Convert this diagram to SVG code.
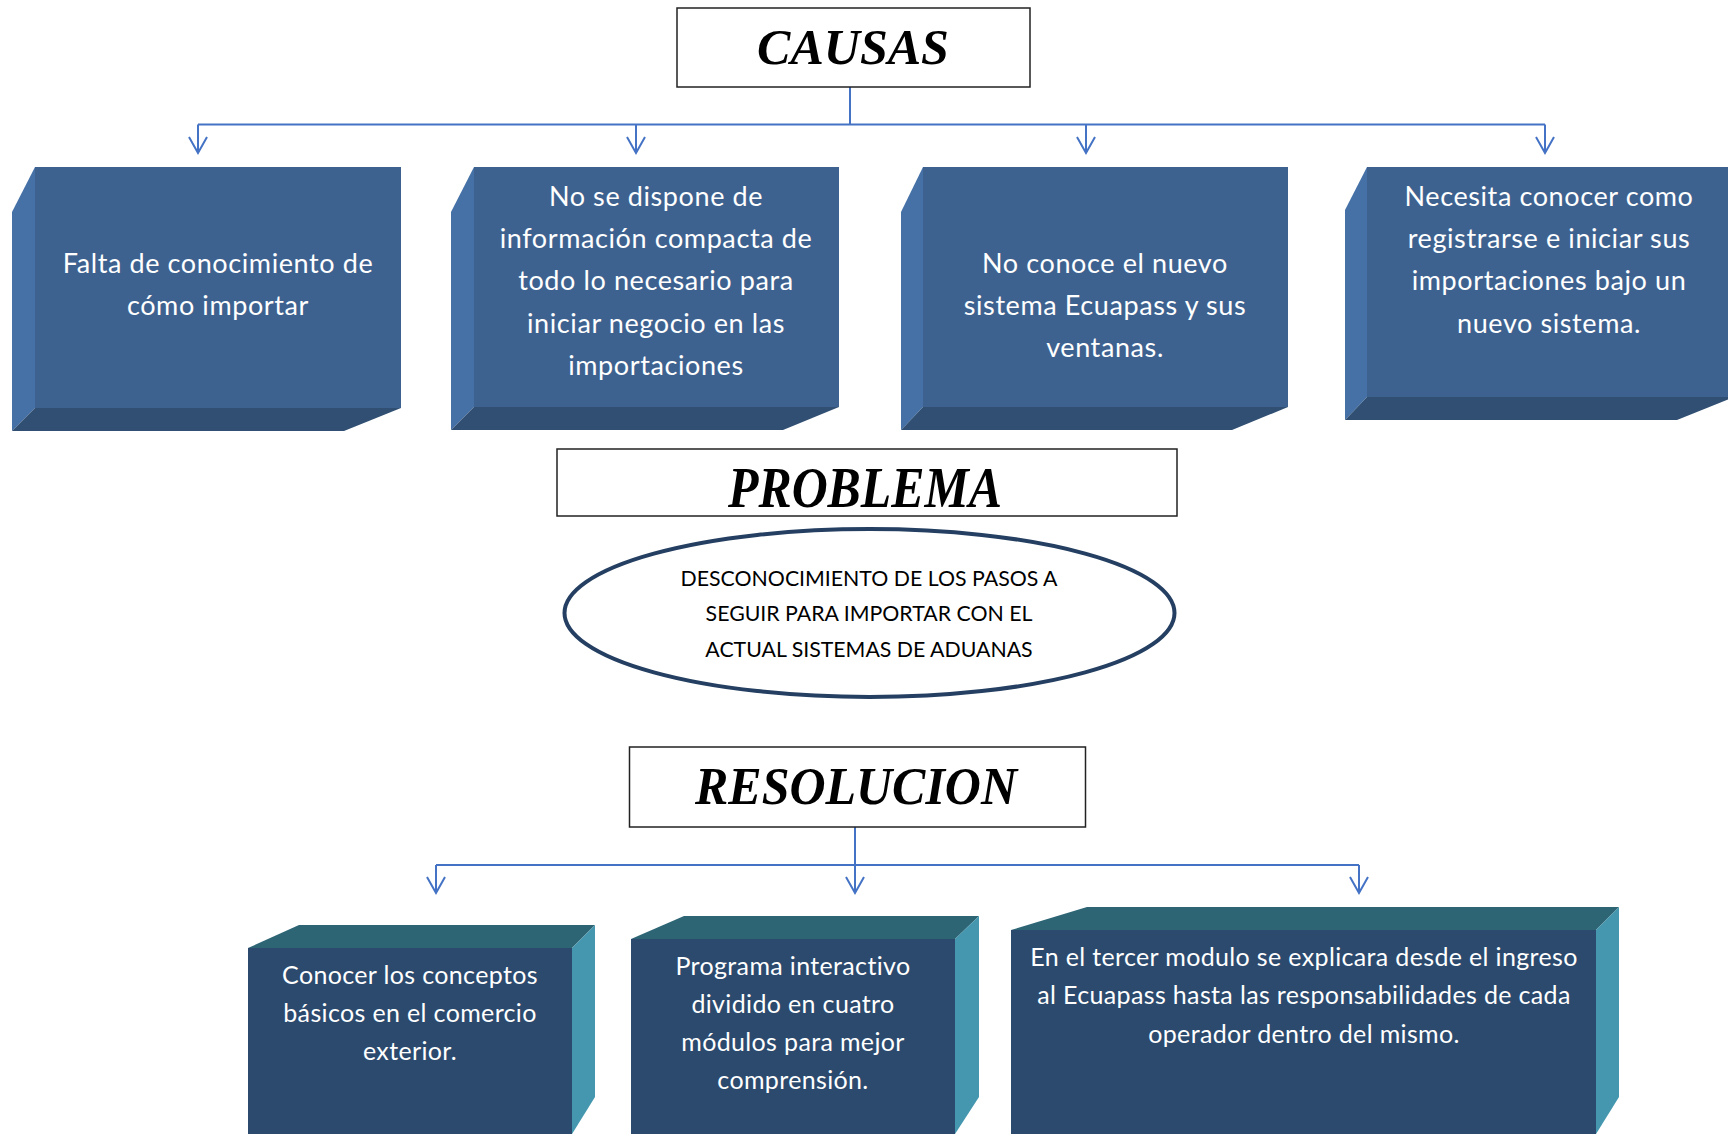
<svg xmlns="http://www.w3.org/2000/svg" width="1728" height="1134" viewBox="0 0 1728 1134">
<style>
.title{font-family:"Liberation Serif",serif;font-weight:bold;font-style:italic;fill:#000;text-anchor:middle}
.tbox{fill:#fff;stroke:#222;stroke-width:1.5}
.ct{font-family:Lato,"Open Sans",sans-serif;font-size:27px;letter-spacing:0.6px;fill:#fff;text-anchor:middle}
.rt{font-family:Lato,"Open Sans",sans-serif;font-size:25px;letter-spacing:0.35px;fill:#fff;text-anchor:middle}
.et{font-family:Lato,"Open Sans",sans-serif;font-size:21.3px;fill:#000;text-anchor:middle}
.cf{fill:#3e6290}.cl{fill:#4571a7}.cb{fill:#304f72}
.rf{fill:#2b4a6e}.rtp{fill:#2d6575}.rr{fill:#4497ae}
.conn{stroke:#4472c4;stroke-width:2;fill:none}
</style>
<defs>
<marker id="arr" markerUnits="userSpaceOnUse" markerWidth="40" markerHeight="40" refX="0" refY="0" orient="auto" overflow="visible">
<path d="M-16,-9 L0,0 L-16,9" fill="none" stroke="#4472c4" stroke-width="2"/>
</marker>
</defs>
<rect width="1728" height="1134" fill="#fff"/>

<g id="connectors">
<line class="conn" x1="850" y1="87" x2="850" y2="124.5"/>
<line class="conn" x1="198" y1="124.5" x2="1545" y2="124.5"/>
<line class="conn" x1="198" y1="124.5" x2="198" y2="153" marker-end="url(#arr)"/>
<line class="conn" x1="636" y1="124.5" x2="636" y2="153" marker-end="url(#arr)"/>
<line class="conn" x1="1086" y1="124.5" x2="1086" y2="153" marker-end="url(#arr)"/>
<line class="conn" x1="1545" y1="124.5" x2="1545" y2="153" marker-end="url(#arr)"/>
<line class="conn" x1="855" y1="827" x2="855" y2="865"/>
<line class="conn" x1="436" y1="865" x2="1359" y2="865"/>
<line class="conn" x1="436" y1="865" x2="436" y2="893" marker-end="url(#arr)"/>
<line class="conn" x1="855" y1="865" x2="855" y2="893" marker-end="url(#arr)"/>
<line class="conn" x1="1359" y1="865" x2="1359" y2="893" marker-end="url(#arr)"/>
</g>

<g id="causas">
<rect class="tbox" x="677" y="8" width="353" height="79"/>
<text class="title" x="853" y="64" font-size="50">CAUSAS</text>
</g>

<g id="causa1">
<polygon class="cl" points="12,212 35,167 35,408 12,431"/>
<polygon class="cb" points="12,431 35,408 401,408 344,431"/>
<rect class="cf" x="35" y="167" width="366" height="241"/>
<text class="ct" x="218" y="273">Falta de conocimiento de</text>
<text class="ct" x="218" y="315">cómo importar</text>
</g>

<g id="causa2">
<polygon class="cl" points="451,212 474,167 474,407 451,430"/>
<polygon class="cb" points="451,430 474,407 839,407 783,430"/>
<rect class="cf" x="474" y="167" width="365" height="240"/>
<text class="ct" x="656" y="206">No se dispone de</text>
<text class="ct" x="656" y="248">información compacta de</text>
<text class="ct" x="656" y="290">todo lo necesario para</text>
<text class="ct" x="656" y="333">iniciar negocio en las</text>
<text class="ct" x="656" y="375">importaciones</text>
</g>

<g id="causa3">
<polygon class="cl" points="901,212 923,167 923,407 901,430"/>
<polygon class="cb" points="901,430 923,407 1288,407 1232,430"/>
<rect class="cf" x="923" y="167" width="365" height="240"/>
<text class="ct" x="1105" y="273">No conoce el nuevo</text>
<text class="ct" x="1105" y="315">sistema Ecuapass y sus</text>
<text class="ct" x="1105" y="357">ventanas.</text>
</g>

<g id="causa4">
<polygon class="cl" points="1345,210 1367,167 1367,397 1345,420"/>
<polygon class="cb" points="1345,420 1367,397 1734,397 1677,420"/>
<rect class="cf" x="1367" y="167" width="367" height="230"/>
<text class="ct" x="1549" y="206">Necesita conocer como</text>
<text class="ct" x="1549" y="248">registrarse e iniciar sus</text>
<text class="ct" x="1549" y="290">importaciones bajo un</text>
<text class="ct" x="1549" y="333">nuevo sistema.</text>
</g>

<g id="problema">
<rect class="tbox" x="557" y="449" width="620" height="67"/>
<text class="title" x="865" y="507" font-size="56" textLength="274" lengthAdjust="spacingAndGlyphs">PROBLEMA</text>
</g>

<g id="problema-desc">
<ellipse cx="869.5" cy="613" rx="305" ry="84" fill="#fff" stroke="#243f61" stroke-width="4"/>
<text class="et" x="869" y="586">DESCONOCIMIENTO DE LOS PASOS A</text>
<text class="et" x="869" y="621">SEGUIR PARA IMPORTAR CON EL</text>
<text class="et" x="869" y="657">ACTUAL SISTEMAS DE ADUANAS</text>
</g>

<g id="resolucion">
<rect class="tbox" x="629.5" y="747" width="456" height="80"/>
<text class="title" x="856" y="804" font-size="53" textLength="322" lengthAdjust="spacingAndGlyphs">RESOLUCION</text>
</g>

<g id="res1">
<polygon class="rtp" points="248,948 299,925 595,925 572,948"/>
<polygon class="rr" points="572,948 595,925 595,1097 572,1134"/>
<rect class="rf" x="248" y="948" width="324" height="190"/>
<text class="rt" x="410" y="984">Conocer los conceptos</text>
<text class="rt" x="410" y="1022">básicos en el comercio</text>
<text class="rt" x="410" y="1060">exterior.</text>
</g>

<g id="res2">
<polygon class="rtp" points="631,939 684,916 979,916 955,939"/>
<polygon class="rr" points="955,939 979,916 979,1097 955,1134"/>
<rect class="rf" x="631" y="939" width="324" height="200"/>
<text class="rt" x="793" y="975">Programa interactivo</text>
<text class="rt" x="793" y="1013">dividido en cuatro</text>
<text class="rt" x="793" y="1051">módulos para mejor</text>
<text class="rt" x="793" y="1089">comprensión.</text>
</g>

<g id="res3">
<polygon class="rtp" points="1011,930 1087,907 1619,907 1596,930"/>
<polygon class="rr" points="1596,930 1619,907 1619,1097 1596,1134"/>
<rect class="rf" x="1011" y="930" width="585" height="210"/>
<text class="rt" x="1304" y="966">En el tercer modulo se explicara desde el ingreso</text>
<text class="rt" x="1304" y="1004">al Ecuapass hasta las responsabilidades de cada</text>
<text class="rt" x="1304" y="1043">operador dentro del mismo.</text>
</g>
</svg>
